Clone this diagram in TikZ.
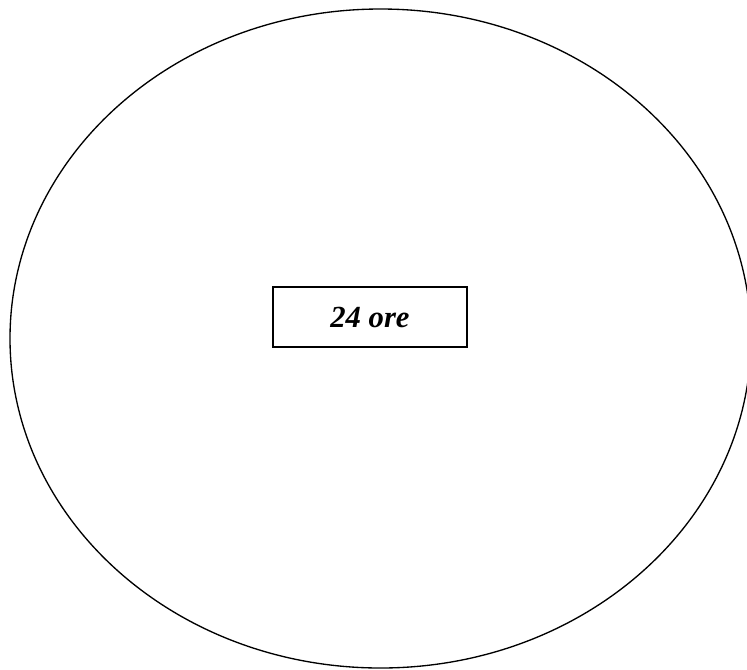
\documentclass[tikz,border=0pt]{standalone}
\usepackage{fontspec}
\setmainfont{Liberation Serif}
\usetikzlibrary{shapes.geometric}
\tikzset{
  dayring/.style={
    ellipse,
    draw=black,
    line width=1pt,
    minimum width=555.75pt,
    minimum height=494.25pt,
    inner sep=0pt
  },
  hourbox/.style={
    rectangle,
    draw=black,
    line width=1.1pt,
    minimum width=145.5pt,
    minimum height=45pt,
    align=center,
    font=\fontsize{23}{27}\selectfont\bfseries\itshape
  }
}

\begin{document}
\begin{tikzpicture}[x=0.75pt,y=-0.75pt]
  \useasboundingbox (0,0) rectangle (747,669);
  \clip (0,0) rectangle (747,669);
  \node[dayring] (day) at (380.5,338.5) {};
  \node[hourbox] (hours) at (370,317) {24 ore};
\end{tikzpicture}
\end{document}
